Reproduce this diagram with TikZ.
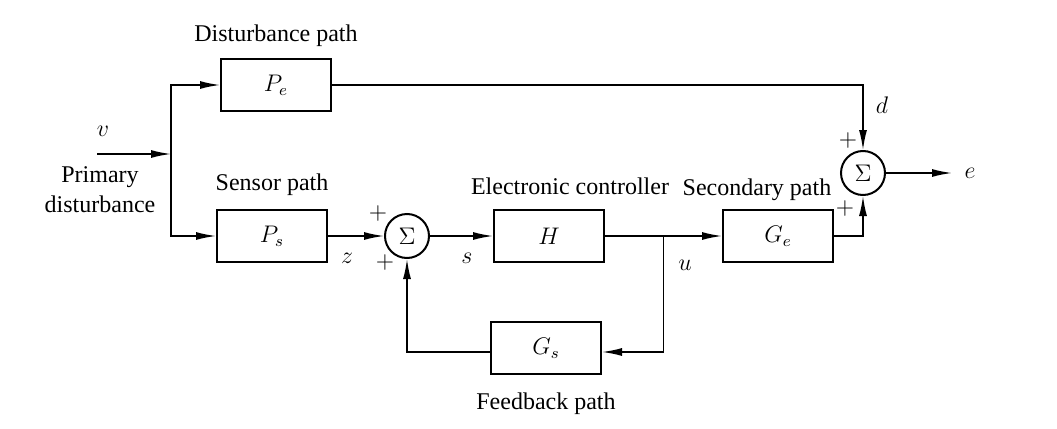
\documentclass[tikz,border=0pt]{standalone}
\usepackage{fontspec}
\setmainfont{Liberation Serif}
\usetikzlibrary{arrows.meta,positioning,calc}

\begin{document}
\begin{tikzpicture}[x=0.5pt,y=-0.5pt,>={Latex[length=10pt,width=4pt]},line width=0.8pt,
    font=\fontsize{12}{15}\selectfont,
    blk/.style={draw,line width=1pt,minimum width=55pt,minimum height=26pt},
    sumnode/.style={draw,line width=1pt,circle,minimum size=22pt,inner sep=0pt,font=\large}]
    \useasboundingbox (0,0) rectangle (1057,429);
    % blocks
    \node[blk] (pe) at (276,85) {$P_e$};
    \node[blk] (ps) at (272,236) {$P_s$};
    \node[sumnode] (sum1) at (407,236) {$\Sigma$};
    \node[blk] (h) at (549,236) {$H$};
    \node[blk] (ge) at (778,236) {$G_e$};
    \node[blk] (gs) at (546,348) {$G_s$};
    \node[sumnode] (sum2) at (863,173) {$\Sigma$};
    % block titles
    \node[above=2pt of pe] {Disturbance path};
    \node[above=3pt of ps] {Sensor path};
    \node at (570,186) {Electronic controller};
    \node at (757,190) {Secondary path};
    \node[below=5pt of gs] {Feedback path};
    \node[align=center] (prim) at (100,190) {Primary\\disturbance};
    % signals
    \coordinate (vin) at (97,154);
    \coordinate (br) at (171,154);
    \coordinate (ujn) at ($(h.east)!0.5!(ge.west)$);
    \coordinate (eout) at (952,173);
    \draw[->] (vin) -- (br);
    \draw[->] (br) |- (pe.west);
    \draw[->] (br) |- (ps.west);
    \draw[->] (ps) -- (sum1);
    \draw[->] (sum1) -- (h);
    \draw[->] (h) -- (ge);
    \draw[->] (ujn) |- ($(gs.east)+(0,4)$);
    \draw[->] ($(gs.west)+(0,4)$) -| (sum1.south);
    \draw[->] (pe.east) -| (sum2.north);
    \draw[->] (ge.east) -| (sum2.south);
    \draw[->] (sum2) -- (eout);
    % signal labels
    \node (vlab) at (103,131) {$v$};
    \node (zlab) at (347,258) {$z$};
    \node (slab) at (467,258) {$s$};
    \node (ulab) at (685,265) {$u$};
    \node (dlab) at (882,105) {$d$};
    \node (elab) at (970,173) {$e$};
    \node at (378,213) {$+$};
    \node at (385,262) {$+$};
    \node at (848,140) {$+$};
    \node at (845,208) {$+$};
\end{tikzpicture}
\end{document}
